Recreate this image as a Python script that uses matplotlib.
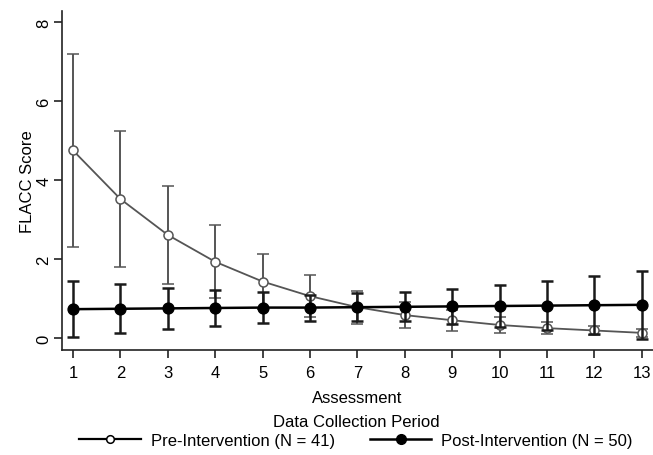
import matplotlib
matplotlib.use("Agg")
import matplotlib.pyplot as plt
from matplotlib.lines import Line2D

plt.rcParams['font.family'] = ['Liberation Sans', 'DejaVu Sans']

assessment = list(range(1, 14))
pre_mean = [4.75, 3.52, 2.61, 1.93, 1.43, 1.06, 0.78, 0.58, 0.45, 0.33, 0.25, 0.19, 0.13]
pre_sd   = [2.45, 1.73, 1.25, 0.92, 0.70, 0.53, 0.42, 0.33, 0.27, 0.21, 0.16, 0.12, 0.11]
post_mean = [0.73, 0.74, 0.75, 0.76, 0.77, 0.77, 0.78, 0.79, 0.80, 0.81, 0.82, 0.83, 0.84]
post_sd   = [0.71, 0.62, 0.52, 0.46, 0.39, 0.33, 0.35, 0.37, 0.44, 0.52, 0.62, 0.74, 0.86]
yticks = [0, 2, 4, 6, 8]
pre_label = "Pre-Intervention (N = 41)"
post_label = "Post-Intervention (N = 50)"

W, H = 653, 456
fig = plt.figure(figsize=(W/100, H/100), dpi=100)
ax = fig.add_axes([62/W, 1-351/H, (W-62)/W, (351-12)/H])

fs = 12
pre_col = '#555555'
ax.errorbar(assessment, pre_mean, yerr=pre_sd, color=pre_col, lw=1.3,
            marker='o', ms=6.5, mfc='white', mec=pre_col, mew=1.1,
            ecolor=pre_col, elinewidth=1.4, capsize=4, capthick=1.4,
            zorder=2)
ax.errorbar(assessment, post_mean, yerr=post_sd, color='black', lw=1.8,
            marker='o', ms=7.8, mfc='black', mec='black',
            ecolor='#1a1a1a', elinewidth=1.8, capsize=4, capthick=1.8,
            zorder=3)

ax.set_xlim(0.768, 13.238)
ax.set_ylim(-0.304, 8.28)
ax.set_xticks(assessment)
ax.set_yticks(yticks)
ax.set_yticklabels([str(v) for v in yticks], rotation=90, va='center')
for s in ['top', 'right']:
    ax.spines[s].set_visible(False)
for s in ['left', 'bottom']:
    ax.spines[s].set_linewidth(1.2)
    ax.spines[s].set_color('#222222')
ax.tick_params(axis='both', direction='out', length=6, width=1.2, color='#222222',
               labelsize=fs, labelcolor='black')
ax.tick_params(axis='x', pad=5)
ax.tick_params(axis='y', pad=1.5)
ax.set_xlabel("Assessment", fontsize=fs, labelpad=7)
ax.set_ylabel("FLACC Score", fontsize=fs, labelpad=1)

handles = [
    Line2D([], [], color='black', lw=1.6, marker='o', ms=5.5, mfc='white',
           mec='black', mew=1.1),
    Line2D([], [], color='black', lw=1.8, marker='o', ms=7, mfc='black',
           mec='black'),
]
leg = fig.legend(handles, [pre_label, post_label], loc='center',
                 bbox_to_anchor=(356/W, 1-432/H), ncol=2,
                 frameon=False, fontsize=fs, title="Data Collection Period",
                 title_fontsize=fs, handlelength=3.7, columnspacing=2.1,
                 handletextpad=0.6, borderaxespad=0, labelspacing=0.2)

fig.savefig("out.png", dpi=100)
